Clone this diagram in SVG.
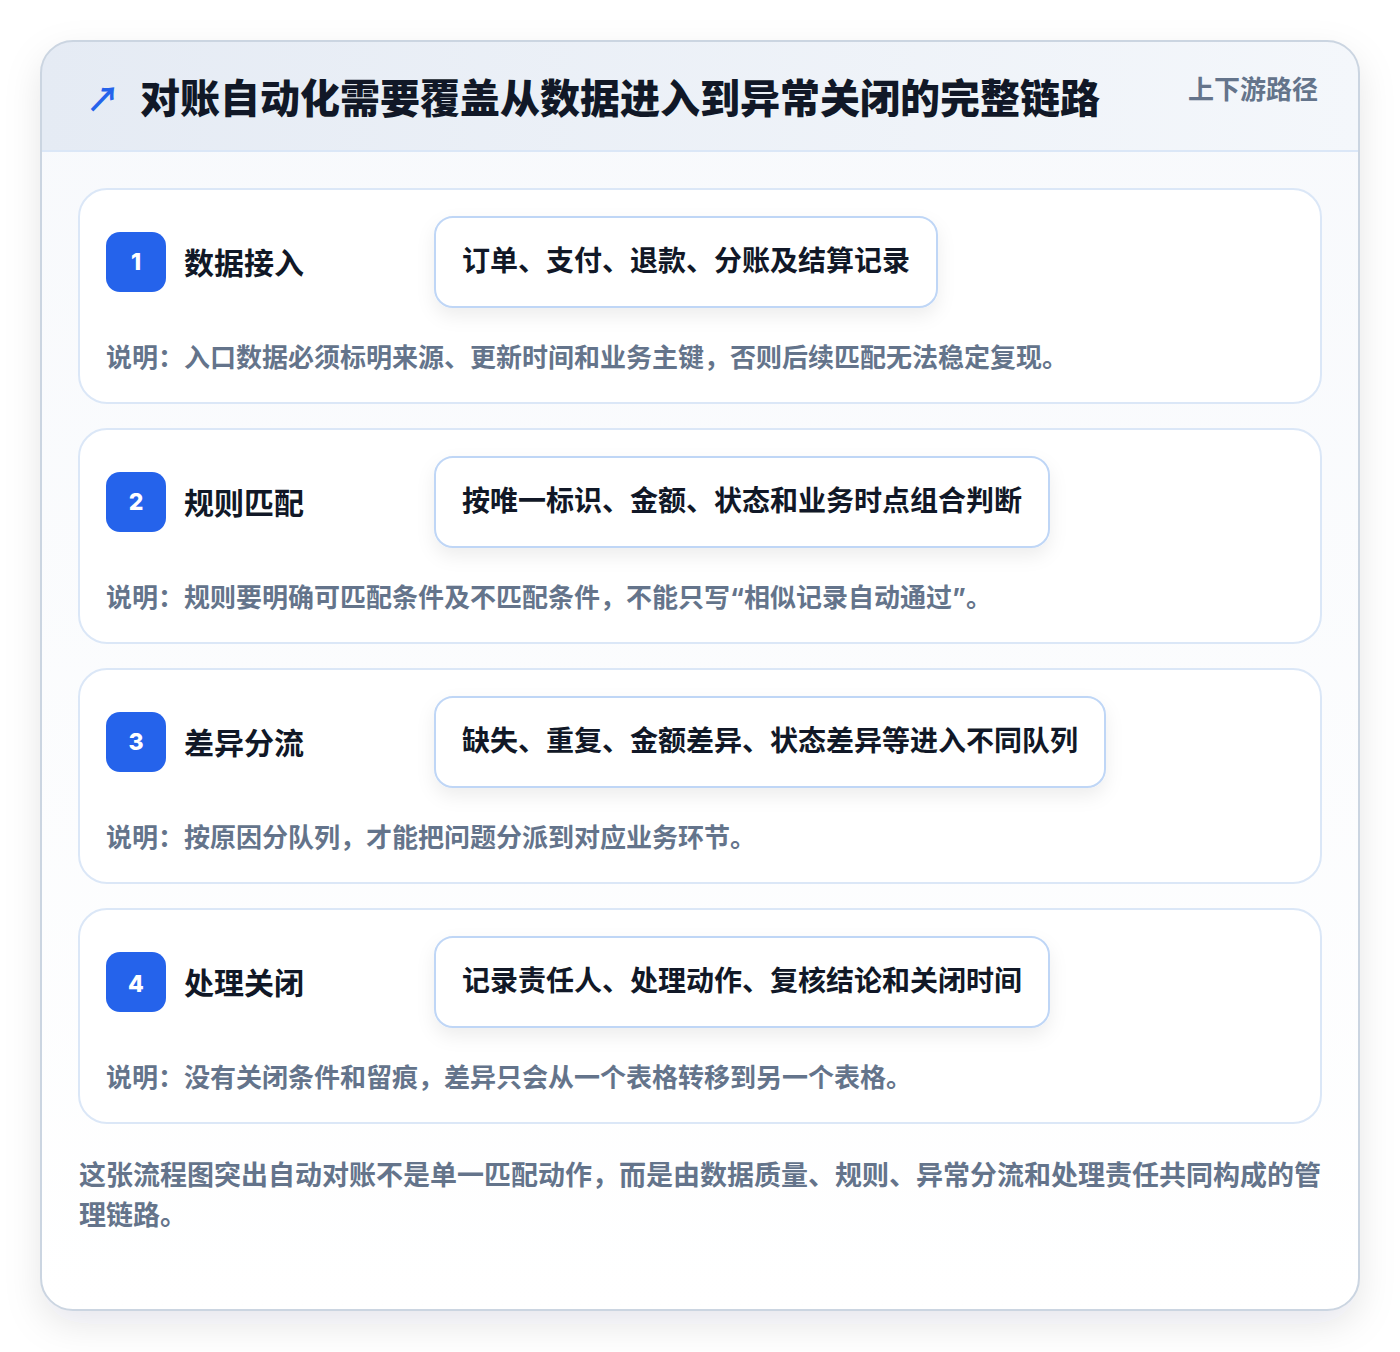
<svg xmlns="http://www.w3.org/2000/svg" width="1400" height="1352" viewBox="0 0 1400 1352">
<defs>
<linearGradient id="hdr" x1="0" y1="0" x2="1" y2="0"><stop offset="0" stop-color="#e5ebf4"/><stop offset="1" stop-color="#f4f7fb"/></linearGradient>
<linearGradient id="body" x1="0" y1="0" x2="0" y2="1"><stop offset="0" stop-color="#f7f9fc"/><stop offset="1" stop-color="#ffffff"/></linearGradient>
<filter id="cardShadow" x="-10%" y="-10%" width="120%" height="120%"><feDropShadow dx="0" dy="14" stdDeviation="18" flood-color="#0f172a" flood-opacity="0.10"/></filter>
<filter id="pillShadow" x="-10%" y="-30%" width="120%" height="170%"><feDropShadow dx="0" dy="8" stdDeviation="9" flood-color="#0f172a" flood-opacity="0.07"/></filter>
<clipPath id="cardClip"><rect x="41" y="41" width="1318" height="1269" rx="32"/></clipPath>
</defs>
<style>
.t{font-family:"Noto Sans CJK SC","Noto Sans",sans-serif;font-weight:700}
.title{font-size:40px;fill:#111827;font-weight:900}
.tag{font-size:26px;fill:#64748b}
.step{fill:#ffffff;stroke:#dbe7f7;stroke-width:2}
.badge{fill:#2563eb}
.num{font-size:23px;fill:#ffffff;font-family:"Inter","Liberation Sans",sans-serif;font-weight:800}
.stitle{font-size:30px;fill:#111827}
.pill{fill:#ffffff;stroke:#bfd6f6;stroke-width:2}
.ptext{font-size:28px;fill:#111827}
.desc{font-size:26px;fill:#64748b}
.foot{font-size:27px;fill:#64748b}
.q{font-family:"Inter","Liberation Sans",sans-serif}
</style>
<rect width="1400" height="1352" fill="#ffffff"/>
<g id="card">
<rect x="41" y="41" width="1318" height="1269" rx="32" fill="url(#body)" filter="url(#cardShadow)"/>
<g clip-path="url(#cardClip)">
<rect x="41" y="41" width="1318" height="110" fill="url(#hdr)"/>
<line x1="41" y1="151" x2="1359" y2="151" stroke="#dbe7f7" stroke-width="2"/>
</g>
<rect x="41" y="41" width="1318" height="1269" rx="32" fill="none" stroke="#cbd5e1" stroke-width="2"/>
</g>
<g id="header">
<text class="t" x="86" y="112" font-size="34" fill="#2563eb">↗</text>
<text class="t title" x="140" y="113">对账自动化需要覆盖从数据进入到异常关闭的完整链路</text>
<text class="t tag" x="1318" y="99" text-anchor="end">上下游路径</text>
</g>
<g id="step1">
<rect class="step" x="79" y="189" width="1242" height="214" rx="28"/>
<rect class="badge" x="106" y="232" width="60" height="60" rx="14"/>
<text class="num" x="136" y="270" text-anchor="middle">1</text>
<text class="t stitle" x="184" y="274">数据接入</text>
<rect class="pill" x="435" y="217" width="502" height="90" rx="18" filter="url(#pillShadow)"/>
<text class="t ptext" x="462" y="271">订单、支付、退款、分账及结算记录</text>
<text class="t desc" x="106" y="367">说明：入口数据必须标明来源、更新时间和业务主键，否则后续匹配无法稳定复现。</text>
</g>
<g id="step2">
<rect class="step" x="79" y="429" width="1242" height="214" rx="28"/>
<rect class="badge" x="106" y="472" width="60" height="60" rx="14"/>
<text class="num" x="136" y="510" text-anchor="middle">2</text>
<text class="t stitle" x="184" y="514">规则匹配</text>
<rect class="pill" x="435" y="457" width="614" height="90" rx="18" filter="url(#pillShadow)"/>
<text class="t ptext" x="462" y="511">按唯一标识、金额、状态和业务时点组合判断</text>
<text class="t desc" x="106" y="607">说明：规则要明确可匹配条件及不匹配条件，不能只写<tspan class="q">“</tspan>相似记录自动通过<tspan class="q">”</tspan>。</text>
</g>
<g id="step3">
<rect class="step" x="79" y="669" width="1242" height="214" rx="28"/>
<rect class="badge" x="106" y="712" width="60" height="60" rx="14"/>
<text class="num" x="136" y="750" text-anchor="middle">3</text>
<text class="t stitle" x="184" y="754">差异分流</text>
<rect class="pill" x="435" y="697" width="670" height="90" rx="18" filter="url(#pillShadow)"/>
<text class="t ptext" x="462" y="751">缺失、重复、金额差异、状态差异等进入不同队列</text>
<text class="t desc" x="106" y="847">说明：按原因分队列，才能把问题分派到对应业务环节。</text>
</g>
<g id="step4">
<rect class="step" x="79" y="909" width="1242" height="214" rx="28"/>
<rect class="badge" x="106" y="952" width="60" height="60" rx="14"/>
<text class="num" x="136" y="992" text-anchor="middle">4</text>
<text class="t stitle" x="184" y="994">处理关闭</text>
<rect class="pill" x="435" y="937" width="614" height="90" rx="18" filter="url(#pillShadow)"/>
<text class="t ptext" x="462" y="991">记录责任人、处理动作、复核结论和关闭时间</text>
<text class="t desc" x="106" y="1087">说明：没有关闭条件和留痕，差异只会从一个表格转移到另一个表格。</text>
</g>
<g id="connectors"/>
<g id="footer">
<text class="t foot" x="79" y="1185">这张流程图突出自动对账不是单一匹配动作，而是由数据质量、规则、异常分流和处理责任共同构成的管</text>
<text class="t foot" x="79" y="1225">理链路。</text>
</g>
</svg>
